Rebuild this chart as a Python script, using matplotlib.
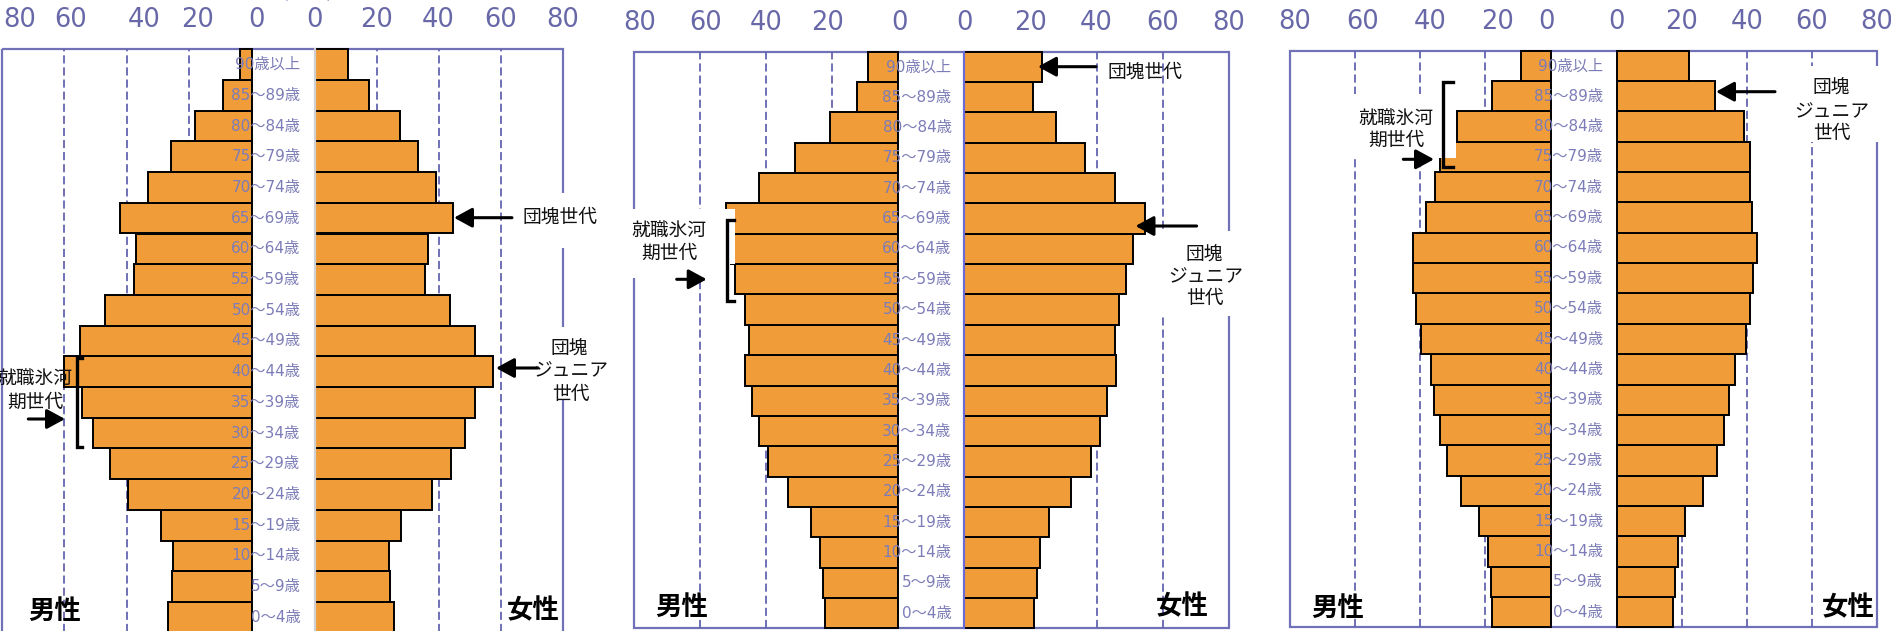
import numpy as np
import matplotlib
matplotlib.use("Agg")
import matplotlib.pyplot as plt
from matplotlib.patches import Rectangle
from matplotlib.transforms import blended_transform_factory

plt.rcParams['font.family'] = ['DejaVu Sans', 'Noto Sans CJK JP']
JP = ['Noto Sans CJK JP', 'DejaVu Sans']

# ---------------- data (万人), youngest group first ----------------
ages = ["0～4歳", "5～9歳", "10～14歳", "15～19歳", "20～24歳", "25～29歳",
        "30～34歳", "35～39歳", "40～44歳", "45～49歳", "50～54歳", "55～59歳",
        "60～64歳", "65～69歳", "70～74歳", "75～79歳", "80～84歳", "85～89歳",
        "90歳以上"]
ticks = [0, 20, 40, 60, 80]

male_1 = [26.9, 25.7, 25.3, 29.2, 39.6, 45.4, 50.9, 54.4, 60.0, 55.0,
          46.9, 37.7, 37.0, 42.3, 33.3, 25.9, 18.2, 9.2, 3.8]
female_1 = [25.5, 24.2, 24.0, 27.8, 37.9, 43.9, 48.4, 51.7, 57.6, 51.8,
            43.6, 35.6, 36.5, 44.7, 39.2, 33.5, 27.5, 17.4, 10.8]
male_2 = [22.1, 22.8, 23.6, 26.5, 33.3, 39.4, 42.3, 44.2, 46.3, 45.3,
          46.3, 49.5, 50.5, 52.1, 42.1, 31.4, 20.6, 12.5, 9.1]
female_2 = [21.2, 22.1, 22.8, 25.5, 32.4, 38.4, 41.2, 43.2, 45.8, 45.7,
            46.7, 49.0, 51.0, 54.7, 45.6, 36.5, 27.6, 20.7, 23.4]
male_3 = [17.9, 18.4, 19.3, 21.9, 27.6, 31.8, 33.9, 35.8, 36.7, 39.7,
          41.3, 42.1, 42.1, 38.1, 35.5, 34.0, 28.8, 17.9, 9.2]
female_3 = [17.2, 17.9, 18.8, 21.0, 26.6, 30.8, 32.9, 34.6, 36.5, 39.8,
            40.9, 42.0, 43.3, 41.5, 41.0, 41.0, 39.2, 30.3, 22.2]

males = [male_1, male_2, male_3]
females = [female_1, female_2, female_3]

# ---------------- layout (pixels) ----------------
W, H = 1891, 631
frame_l = [2, 634, 1290]
frame_r = [562.5, 1228.7, 1877]
frame_t = [49.3, 51.7, 50.7]
frame_b = [632.6, 628.3, 627.3]
male_0 = [252, 898.4, 1550.5]
female_0 = [314.6, 964.3, 1616.5]
age_x = [300.5, 951.5, 1603]
male_tick_dx = [[5, 8, 17, 6, 18], [1, -5, 0, 6, 6], [-4, 12, 10, 7, 5]]
zero_line = ['#d0d0d0', '#6b6bd6', None]

BAR = '#F09C38'
GRID = '#6565B0'
FRAME = '#7171B8'
TICK = '#6868A8'
AGE = '#7C7CB8'

fig = plt.figure(figsize=(W / 100, H / 100), dpi=100)

back = fig.add_axes([0, 0, 1, 1], zorder=-1)
front = fig.add_axes([0, 0, 1, 1], zorder=10)
for ov in (back, front):
    ov.set_xlim(0, W)
    ov.set_ylim(H, 0)
    ov.axis('off')
    ov.patch.set_visible(False)

y = np.arange(len(ages))

for p in range(3):
    # outer frame
    back.add_patch(Rectangle((frame_l[p], frame_t[p]), frame_r[p] - frame_l[p],
                             frame_b[p] - frame_t[p], fill=False,
                             edgecolor=FRAME, lw=1.6))

    y0 = 1 - frame_b[p] / H
    h = (frame_b[p] - frame_t[p]) / H
    ax_m = fig.add_axes([frame_l[p] / W, y0, (male_0[p] - frame_l[p]) / W, h])
    ax_f = fig.add_axes([female_0[p] / W, y0, (frame_r[p] - female_0[p]) / W, h])

    for ax, vals in ((ax_m, males[p]), (ax_f, females[p])):
        ax.barh(y, vals, height=1.0, color=BAR, edgecolor='black',
                linewidth=1.4, zorder=2, clip_on=False)
        for g in ticks[1:4]:
            ax.axvline(g, color=GRID, lw=1.3, linestyle=(0, (4.5, 2.2)), zorder=0)
        ax.set_ylim(-0.5, len(ages) - 0.5)
        ax.set_xticks([])
        ax.set_yticks([])
        ax.patch.set_visible(False)
        for s in ax.spines.values():
            s.set_visible(False)
    ax_m.set_xlim(80, 0)
    ax_f.set_xlim(0, 80)

    if zero_line[p]:
        ax_f.spines['left'].set_visible(True)
        ax_f.spines['left'].set_color(zero_line[p])
        ax_f.spines['left'].set_linewidth(1.6)

    # top scale labels
    for ax, dxs in ((ax_m, male_tick_dx[p]), (ax_f, [0] * 5)):
        for t, dx in zip(ticks, dxs):
            ax.annotate(str(t), xy=(t, 1), xycoords=('data', 'axes fraction'),
                        xytext=(dx, 29), textcoords='offset pixels',
                        ha='center', va='center', fontsize=18.5, color=TICK,
                        annotation_clip=False)

    # age group labels in the gap
    tr = blended_transform_factory(front.transData, ax_m.transData)
    for i, a in enumerate(ages):
        front.text(age_x[p], i, a, transform=tr, ha='right', va='center',
                   fontsize=11, color=AGE, zorder=5)

# ---------------- callouts ----------------
masks = [(508, 193, 100, 55), (538, 327, 64, 73), (4, 354, 58, 70),
         (625, 209, 87, 69), (625, 209, 110, 55), (1155, 231, 90, 85),
         (1350, 94, 106, 64), (1790, 66, 100, 76)]
for mx, my, mw, mh in masks:
    front.add_patch(Rectangle((mx, my), mw, mh, facecolor='white',
                              edgecolor='none', zorder=1))

notes = [("団塊世代", 560, 217), ("団塊", 569, 349), ("ジュニア", 570.5, 371),
         ("世代", 570.6, 394), ("就職氷河", 35, 379), ("期世代", 35, 402),
         ("団塊世代", 1145, 72.5), ("団塊", 1204.6, 255), ("ジュニア", 1205.4, 277),
         ("世代", 1205, 298.5), ("就職氷河", 668.4, 231.7), ("期世代", 669, 253.3),
         ("団塊", 1831.4, 88.3), ("ジュニア", 1831.4, 111.7), ("世代", 1831.4, 133.3),
         ("就職氷河", 1396, 119.3), ("期世代", 1396.7, 140)]
for s, nx, ny in notes:
    front.text(nx, ny, s, ha='center', va='center', fontsize=13.5,
               family=JP, color='#111111', zorder=4)

arrows = [((512, 217.7), (454, 217.7)), ((538, 368), (496, 368)),
          ((28.3, 419), (65, 419)), ((1096, 66.7), (1038, 66.7)),
          ((1196.6, 226), (1135.5, 226)), ((676.7, 279.3), (706.7, 279.3)),
          ((1775, 91.7), (1716, 91.7)), ((1403.3, 159.3), (1434, 159.3))]
for tail, tip in arrows:
    front.annotate('', xy=tip, xytext=tail, zorder=3,
                   arrowprops=dict(arrowstyle='-|>,head_length=0.55,head_width=0.3',
                                   mutation_scale=20, lw=2.2, color='black',
                                   shrinkA=0, shrinkB=0))

brackets = [(76.7, 358.3, 446.7, 5.5), (726.7, 220, 301, 7.5),
            (1443.3, 81.7, 166.7, 9.4)]
for bx, by0, by1, hook in brackets:
    front.plot([bx + hook, bx, bx, bx + hook], [by0, by0, by1, by1],
               color='black', lw=2.4, solid_joinstyle='miter', zorder=3)

# gender labels
sex_y = [611, 607, 608]
male_lab_x = [55, 682, 1337.5]
female_lab_x = [533, 1182, 1848]
for p in range(3):
    front.text(male_lab_x[p], sex_y[p], "男性", ha='center', va='center',
               fontsize=19, fontweight='bold', family=JP, zorder=4)
    front.text(female_lab_x[p], sex_y[p], "女性", ha='center', va='center',
               fontsize=19, fontweight='bold', family=JP, zorder=4)

# unit label, mostly cut off at the top edge
front.text(307, -8, "(万人)", ha='center', va='center', fontsize=14,
           family=JP, color=TICK, zorder=4)

fig.savefig("out.png", dpi=100)
